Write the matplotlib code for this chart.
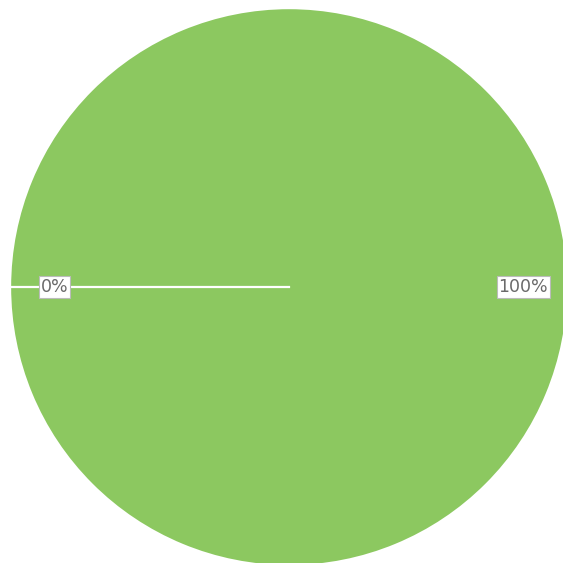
import numpy as np
import matplotlib.pyplot as plt

# two slices: one empty, one full
labels = ['A', 'B']
values = [0, 100]
colors = ['#8cc860', '#8cc860']
start = 180

fig = plt.figure(figsize=(5.63, 5.63), dpi=100)
ax = fig.add_axes([0, 0, 1, 1])

wedges, texts, autotexts = ax.pie(
    values, colors=colors, startangle=start, counterclock=True,
    autopct='%.0f%%', pctdistance=0.84, radius=1.0,
    wedgeprops=dict(edgecolor='white', linewidth=1.6),
    textprops=dict(color='#6a6a6a', fontsize=12.5))

# full wedge draws no radial edge, so add the slice boundary by hand
ang = np.deg2rad(start + 360 * values[0] / sum(values))
ax.plot([0, np.cos(ang)], [0, np.sin(ang)], color='white', lw=1.6, zorder=2)

for t in autotexts:
    t.set_zorder(3)
    t.set_bbox(dict(facecolor='white', edgecolor='#bbbbbb', pad=1.2, linewidth=0.8))

ax.set_aspect('equal')
ax.set_xlim(-1.036, 0.982)
ax.set_ylim(-0.989, 1.029)
ax.axis('off')

fig.savefig('out.png', dpi=100, facecolor='white')
